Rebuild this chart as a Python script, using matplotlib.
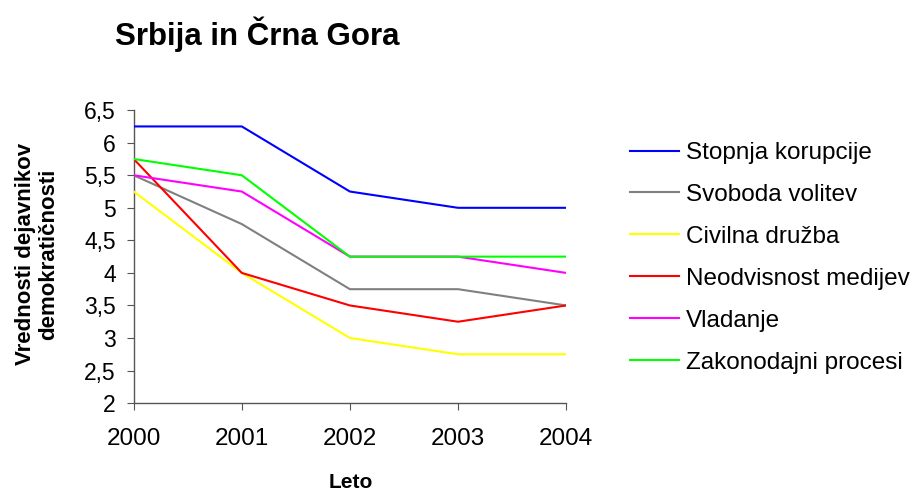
import matplotlib
matplotlib.use("Agg")
import matplotlib.pyplot as plt
from matplotlib.ticker import FuncFormatter

plt.rcParams["font.family"] = ["Liberation Sans", "DejaVu Sans"]

# data
years = ["2000", "2001", "2002", "2003", "2004"]
series_names = [
    "Stopnja korupcije",
    "Svoboda volitev",
    "Civilna družba",
    "Neodvisnost medijev",
    "Vladanje",
    "Zakonodajni procesi",
]
korupcija = [6.25, 6.25, 5.25, 5.0, 5.0]
volitve = [5.5, 4.75, 3.75, 3.75, 3.5]
civilna = [5.25, 4.0, 3.0, 2.75, 2.75]
mediji = [5.75, 4.0, 3.5, 3.25, 3.5]
vladanje = [5.5, 5.25, 4.25, 4.25, 4.0]
zakonodaja = [5.75, 5.5, 4.25, 4.25, 4.25]
colors = ["#0000FF", "#808080", "#FFFF00", "#FF0000", "#FF00FF", "#00FF00"]

all_series = [korupcija, volitve, civilna, mediji, vladanje, zakonodaja]

fig = plt.figure(figsize=(9.22, 4.94), dpi=100)
ax = fig.add_axes([0.145, 0.184, 0.469, 0.593])

x = list(range(len(years)))
for name, vals, col in zip(series_names, all_series, colors):
    ax.plot(x, vals, color=col, lw=1.5, label=name)

ax.set_xlim(0, len(years) - 1)
ax.set_ylim(2, 6.5)
ax.set_xticks(x)
ax.set_xticklabels(years)
ax.set_yticks([2 + 0.5 * i for i in range(10)])
ax.yaxis.set_major_formatter(FuncFormatter(lambda v, p: f"{v:g}".replace(".", ",")))

for s in ["top", "right"]:
    ax.spines[s].set_visible(False)
for s in ["left", "bottom"]:
    ax.spines[s].set_color("#555555")
    ax.spines[s].set_linewidth(1.0)
    ax.spines[s].set_zorder(0)
ax.tick_params(axis="both", direction="out", length=5, color="#555555")
ax.tick_params(axis="y", labelsize=16.5, pad=8)
ax.tick_params(axis="x", labelsize=17.5, pad=13)

fig.text(0.040, 0.485, "Vrednosti dejavnikov\ndemokratičnosti", fontsize=16,
         fontweight="bold", rotation=90, ha="center", va="center",
         linespacing=1.1, multialignment="center")
fig.text(0.38, 0.024, "Leto", fontsize=15, fontweight="bold",
         ha="center", va="center")

fig.text(0.125, 0.93, "Srbija in Črna Gora", fontsize=22.5, fontweight="bold",
         ha="left", va="center")

fig.legend(loc="center left", bbox_to_anchor=(0.670, 0.478), frameon=False,
           fontsize=17.5, handlelength=2.0, handletextpad=0.3,
           labelspacing=0.82, borderpad=0)

fig.savefig("out.png", dpi=100)
